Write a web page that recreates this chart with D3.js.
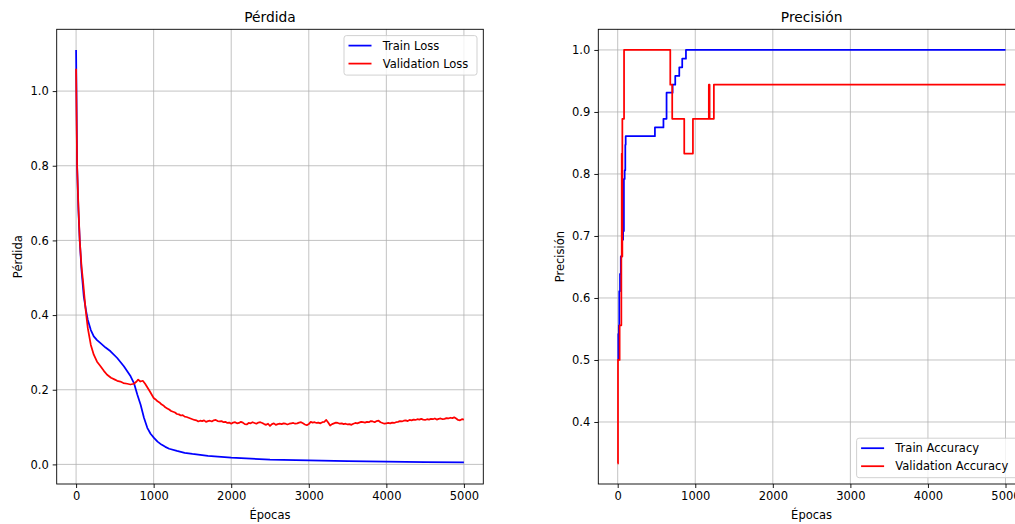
<!DOCTYPE html>
<html><head><meta charset="utf-8">
<script src="https://cdn.jsdelivr.net/npm/d3@7"></script>
<style>
html,body{margin:0;padding:0;background:#fff;}
svg{display:block;font-family:"DejaVu Sans",sans-serif;}
</style></head>
<body>
<svg id="c" width="1015" height="524"></svg>
<script>
// ---------- DATA ----------
const xTicks = [0, 1000, 2000, 3000, 4000, 5000];
const lossTicks = [0.0, 0.2, 0.4, 0.6, 0.8, 1.0];
const accTicks = [0.4, 0.5, 0.6, 0.7, 0.8, 0.9, 1.0];

const trainLossEpochs = [0, 13, 30, 47, 70, 99, 130, 151, 190, 228, 270, 315, 380, 444, 530, 616, 703, 746, 789, 832, 875, 918, 960, 1004, 1050, 1100, 1150, 1200, 1300, 1400, 1500, 1700, 2000, 2500, 3000, 3500, 4000, 4500, 5000];
const trainLoss = [1.11, 0.80, 0.68, 0.60, 0.52, 0.45, 0.41, 0.387, 0.36, 0.343, 0.333, 0.325, 0.313, 0.303, 0.285, 0.263, 0.236, 0.218, 0.187, 0.160, 0.125, 0.098, 0.082, 0.071, 0.061, 0.053, 0.047, 0.042, 0.036, 0.031, 0.028, 0.023, 0.018, 0.013, 0.0105, 0.0088, 0.0074, 0.0062, 0.0052];

// validation loss: early epochs listed explicitly, then read every 25 epochs from 1000 to 5000
const valLossEarlyEpochs = [0, 13, 30, 47, 70, 90, 120, 151, 190, 228, 270, 315, 360, 400, 450, 500, 530, 570, 610, 660, 700, 746, 780, 800, 828, 860, 890, 914, 950];
const valLossEarly = [1.06, 0.80, 0.69, 0.60, 0.53, 0.49, 0.42, 0.365, 0.32, 0.294, 0.275, 0.263, 0.250, 0.240, 0.232, 0.227, 0.224, 0.222, 0.218, 0.216, 0.214, 0.216, 0.222, 0.227, 0.222, 0.224, 0.216, 0.208, 0.196];
const valLossLateEpochs = d3.range(1000, 5001, 25);
const valLossLate = [
  0.178, 0.174, 0.169, 0.166, 0.161, 0.158, 0.153, 0.150, 0.147, 0.143,
  0.141, 0.139, 0.135, 0.134, 0.131, 0.132, 0.128, 0.127, 0.125, 0.123,
  0.121, 0.119, 0.118, 0.115, 0.117, 0.116, 0.118, 0.114, 0.116, 0.117,
  0.115, 0.118, 0.119, 0.116, 0.115, 0.116, 0.113, 0.114, 0.111, 0.112,
  0.109,
  0.112, 0.113, 0.110, 0.111, 0.114, 0.112, 0.108, 0.107, 0.111, 0.110,
  0.113, 0.111, 0.109, 0.112, 0.113, 0.111, 0.108, 0.106, 0.109, 0.103,
  0.108, 0.110, 0.106, 0.108, 0.109, 0.108, 0.110, 0.109, 0.107, 0.109,
  0.110, 0.111, 0.109, 0.110, 0.112, 0.113, 0.110, 0.107, 0.105, 0.108,
  0.114, 0.112, 0.113, 0.111, 0.112, 0.110, 0.113, 0.114, 0.119, 0.112,
  0.104, 0.108, 0.110, 0.112, 0.111, 0.109, 0.110, 0.108, 0.109, 0.107,
  0.108, 0.106, 0.109, 0.111, 0.110, 0.112, 0.114, 0.113, 0.112, 0.114,
  0.113, 0.116, 0.115, 0.113, 0.116, 0.117, 0.113, 0.111, 0.109, 0.110,
  0.111, 0.110, 0.112, 0.111, 0.113, 0.114, 0.116, 0.115, 0.117, 0.118,
  0.116, 0.119, 0.118, 0.120, 0.119, 0.121, 0.120, 0.122, 0.120, 0.119,
  0.121, 0.120, 0.122, 0.121, 0.123, 0.120, 0.122, 0.123, 0.121, 0.122,
  0.124, 0.123, 0.125, 0.124, 0.126, 0.123, 0.119, 0.118, 0.121, 0.120];
const valLossEpochs = valLossEarlyEpochs.concat(valLossLateEpochs);
const valLoss = valLossEarly.concat(valLossLate);

// accuracy change points (step series)
const trainAccEpochs = [0, 8, 15, 20, 30, 40, 55, 70, 80, 90, 98, 103, 480, 590, 630, 708, 742, 794, 832, 880, 5000];
const trainAcc = [0.500, 0.542, 0.556, 0.611, 0.639, 0.667, 0.694, 0.708, 0.792, 0.806, 0.847, 0.861, 0.875, 0.889, 0.931, 0.944, 0.958, 0.972, 0.986, 1.000, 1.000];
const valAccEpochs = [0, 4, 25, 47, 52, 56, 60, 82, 678, 703, 858, 970, 1175, 1185, 1240, 5000];
const valAcc = [0.333, 0.500, 0.556, 0.667, 0.833, 0.667, 0.889, 1.000, 0.944, 0.889, 0.833, 0.889, 0.944, 0.889, 0.944, 0.944];

// ---------- LAYOUT ----------
const svg = d3.select("#c");
const FS = 11.5;
const panels = [
  {x0: 56.7, title: "Pérdida", ylabel: "Pérdida", ydom: [-0.0525, 1.1655], yticks: lossTicks,
   series: [{xs: trainLossEpochs, ys: trainLoss, color: "#0000ff", name: "Train Loss", step: false},
            {xs: valLossEpochs, ys: valLoss, color: "#ff0000", name: "Validation Loss", step: false}],
   legend: "top", ylabelX: 17.5},
  {x0: 598.3, title: "Precisión", ylabel: "Precisión", ydom: [0.3, 1.0333], yticks: accTicks,
   series: [{xs: trainAccEpochs, ys: trainAcc, color: "#0000ff", name: "Train Accuracy", step: true},
            {xs: valAccEpochs, ys: valAcc, color: "#ff0000", name: "Validation Accuracy", step: true}],
   legend: "bottom", ylabelX: 560}
];
const W = 426.6, T = 29.3, B = 484;

panels.forEach(p => {
  const x = d3.scaleLinear().domain([-250, 5250]).range([p.x0, p.x0 + W]);
  const y = d3.scaleLinear().domain(p.ydom).range([B, T]);
  const g = svg.append("g");

  // grid
  g.append("g").selectAll("line").data(xTicks).join("line")
    .attr("x1", d => x(d)).attr("x2", d => x(d)).attr("y1", T).attr("y2", B)
    .attr("stroke", "#b0b0b0").attr("stroke-width", 0.9).attr("stroke-opacity", 0.85);
  g.append("g").selectAll("line").data(p.yticks).join("line")
    .attr("y1", d => y(d)).attr("y2", d => y(d)).attr("x1", p.x0).attr("x2", p.x0 + W)
    .attr("stroke", "#b0b0b0").attr("stroke-width", 0.9).attr("stroke-opacity", 0.85);

  // series
  p.series.forEach(s => {
    const pts = s.xs.map((e, i) => [e, s.ys[i]]);
    const line = d3.line().x(d => x(d[0])).y(d => y(d[1]))
      .curve(s.step ? d3.curveStepAfter : d3.curveLinear);
    g.append("path").attr("d", line(pts)).attr("fill", "none")
      .attr("stroke", s.color).attr("stroke-width", 1.75).attr("stroke-linejoin", "round");
  });

  // axes
  const xAxis = d3.axisBottom(x).tickValues(xTicks).tickSize(4).tickPadding(4).tickFormat(d3.format("d"));
  const ga = g.append("g").attr("transform", `translate(0,${B})`).call(xAxis);
  const yAxis = d3.axisLeft(y).tickValues(p.yticks).tickSize(4).tickPadding(4).tickFormat(d3.format(".1f"));
  const gy = g.append("g").attr("transform", `translate(${p.x0},0)`).call(yAxis);
  [ga, gy].forEach(a => {
    a.select(".domain").remove();
    a.selectAll("text").attr("font-size", FS).attr("fill", "#000").attr("font-family", "DejaVu Sans");
    a.selectAll("line").attr("stroke", "#000").attr("stroke-width", 0.9);
  });

  // spines
  g.append("rect").attr("x", p.x0).attr("y", T).attr("width", W).attr("height", B - T)
    .attr("fill", "none").attr("stroke", "#000").attr("stroke-width", 0.9);

  // labels
  g.append("text").attr("x", p.x0 + W / 2).attr("y", 22.3).attr("text-anchor", "middle")
    .attr("font-size", 13.8).text(p.title);
  g.append("text").attr("x", p.x0 + W / 2).attr("y", 518.5).attr("text-anchor", "middle")
    .attr("font-size", FS).text("Épocas");
  g.append("text").attr("transform", `translate(${p.ylabelX},${(T + B) / 2}) rotate(-90)`)
    .attr("text-anchor", "middle").attr("dy", "0.35em").attr("font-size", FS).text(p.ylabel);

  // legend
  const lw = p.legend === "top" ? 133 : 162;
  const lh = 39.5;
  const lx = p.x0 + W - 6.3 - lw;
  const ly = p.legend === "top" ? T + 6.3 : B - 6.3 - lh;
  const lg = g.append("g").attr("transform", `translate(${lx},${ly})`);
  lg.append("rect").attr("width", lw).attr("height", lh).attr("rx", 2.5)
    .attr("fill", "#fff").attr("fill-opacity", 0.8).attr("stroke", "#cccccc").attr("stroke-width", 0.9);
  p.series.forEach((s, i) => {
    const cy = 10 + i * 18;
    lg.append("line").attr("x1", 4.5).attr("x2", 27.5).attr("y1", cy).attr("y2", cy)
      .attr("stroke", s.color).attr("stroke-width", 1.75);
    lg.append("text").attr("x", 38.7).attr("y", cy).attr("dy", "0.36em").attr("font-size", FS).text(s.name);
  });
});
</script>
</body></html>
